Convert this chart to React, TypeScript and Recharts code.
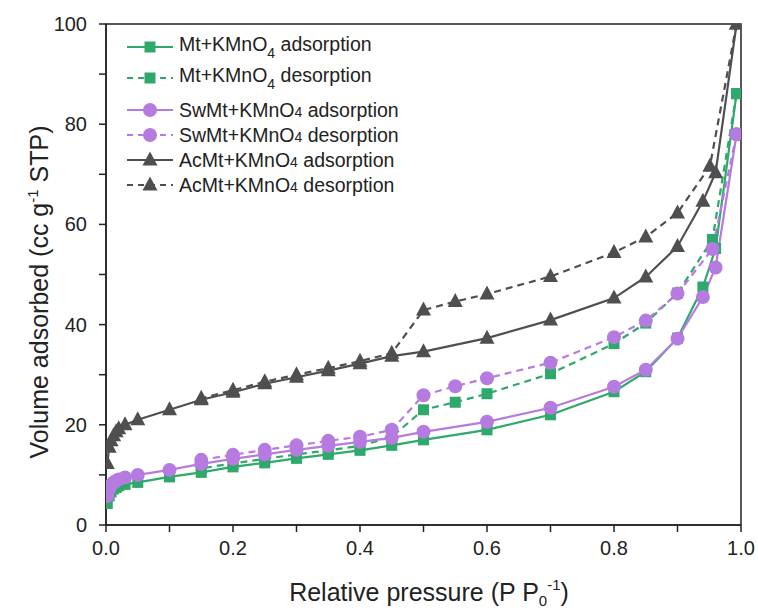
import React from "react"
import { LineChart, Line, XAxis, YAxis, ReferenceArea } from "recharts"

const GREEN = "#2fa96b"
const PURPLE = "#b67be0"
const DARK = "#4f4f4f"
const FONT = "'Liberation Sans', Arial, sans-serif"

// relative pressure points (adsorption branch, then desorption branch)
const adsP = [0.002, 0.005, 0.008, 0.012, 0.016, 0.02, 0.03, 0.05, 0.1, 0.15, 0.2, 0.25, 0.3, 0.35, 0.4, 0.45, 0.5, 0.6, 0.7, 0.8, 0.85, 0.9, 0.94, 0.96, 0.993]
const desP = [0.993, 0.955, 0.9, 0.85, 0.8, 0.7, 0.6, 0.55, 0.5, 0.45, 0.4, 0.35, 0.3, 0.25, 0.2, 0.15]
const acDesP = [0.993, 0.951, 0.9, 0.85, 0.8, 0.7, 0.6, 0.55, 0.5, 0.45, 0.4, 0.35, 0.3, 0.25, 0.2, 0.15]

const mtAds = [4.3, 5.8, 6.6, 7.2, 7.5, 7.8, 8.1, 8.5, 9.6, 10.5, 11.6, 12.4, 13.3, 14.1, 14.9, 15.9, 17.0, 19.0, 22.0, 26.6, 30.6, 37.3, 47.5, 55.2, 86.1]
const mtDes = [86.1, 57.0, 46.3, 40.3, 36.2, 30.2, 26.2, 24.5, 23.0, 17.6, 15.8, 14.9, 14.1, 13.2, 12.3, 11.3]
const swAds = [5.8, 7.2, 8.0, 8.5, 8.8, 9.1, 9.5, 10.0, 11.0, 12.2, 13.2, 14.1, 15.0, 15.8, 16.6, 17.4, 18.6, 20.6, 23.4, 27.6, 31.0, 37.2, 45.5, 51.4, 78.0]
const swDes = [78.0, 55.1, 46.2, 40.8, 37.5, 32.4, 29.3, 27.7, 25.9, 19.0, 17.6, 16.8, 15.9, 15.0, 14.0, 13.0]
const acAds = [12.3, 15.5, 16.8, 17.8, 18.6, 19.2, 20.0, 21.0, 23.0, 25.0, 26.5, 28.2, 29.5, 30.8, 32.2, 33.7, 34.6, 37.3, 40.9, 45.3, 49.5, 55.6, 64.6, 70.3, 100]
const acDes = [100, 71.6, 62.3, 57.5, 54.4, 49.6, 46.1, 44.6, 42.9, 34.3, 32.7, 31.3, 30.0, 28.6, 26.9, 25.3]

const xTicks = [0, 0.1, 0.2, 0.3, 0.4, 0.5, 0.6, 0.7, 0.8, 0.9, 1.0]
const yTicks = [0, 10, 20, 30, 40, 50, 60, 70, 80, 90, 100]

const zip = (ps: number[], vs: number[]) => ps.map((p, i) => ({ p, v: vs[i] }))

type Shape = "square" | "circle" | "triangle"

function Marker({ cx, cy, shape, color }: { cx: number; cy: number; shape: Shape; color: string }) {
  if (cx == null || cy == null) return null
  if (shape === "square") return <rect x={cx - 5.5} y={cy - 5.5} width={11} height={11} fill={color} />
  if (shape === "circle") return <circle cx={cx} cy={cy} r={7} fill={color} />
  return <polygon points={`${cx},${cy - 8.5} ${cx + 7.5},${cy + 5.5} ${cx - 7.5},${cy + 5.5}`} fill={color} />
}

const dotFor = (shape: Shape, color: string) => (props: any) => (
  <Marker key={`${shape}-${props.index}`} cx={props.cx} cy={props.cy} shape={shape} color={color} />
)

const series = [
  { name: "Mt+KMnO", sub: true, kind: "adsorption", data: zip(adsP, mtAds), color: GREEN, shape: "square" as Shape, dashed: false },
  { name: "Mt+KMnO", sub: true, kind: "desorption", data: zip(desP, mtDes), color: GREEN, shape: "square" as Shape, dashed: true },
  { name: "SwMt+KMnO", sub: false, kind: "adsorption", data: zip(adsP, swAds), color: PURPLE, shape: "circle" as Shape, dashed: false },
  { name: "SwMt+KMnO", sub: false, kind: "desorption", data: zip(desP, swDes), color: PURPLE, shape: "circle" as Shape, dashed: true },
  { name: "AcMt+KMnO", sub: false, kind: "adsorption", data: zip(adsP, acAds), color: DARK, shape: "triangle" as Shape, dashed: false },
  { name: "AcMt+KMnO", sub: false, kind: "desorption", data: zip(acDesP, acDes), color: DARK, shape: "triangle" as Shape, dashed: true },
]

function XTick(props: any) {
  const { x, y, payload } = props
  const v = payload.value
  if (Math.round(v * 10) % 2 !== 0) return null
  return (
    <text x={x} y={y} dy={17} textAnchor="middle" fontSize={20} fontFamily={FONT} fill="#222">
      {v.toFixed(1)}
    </text>
  )
}

function YTick(props: any) {
  const { x, y, payload } = props
  const v = payload.value
  if (Math.round(v) % 20 !== 0) return null
  return (
    <text x={x} y={y} dy={7} textAnchor="end" fontSize={20} fontFamily={FONT} fill="#222">
      {v}
    </text>
  )
}

function LegendRow({ s, top }: { s: (typeof series)[number]; top: number }) {
  return (
    <div style={{ position: "absolute", left: 126, top, height: 24, display: "flex", alignItems: "center" }}>
      <svg width={48} height={20}>
        <line x1={1} y1={10} x2={47} y2={10} stroke={s.color} strokeWidth={2.2} strokeDasharray={s.dashed ? "6 5" : undefined} />
        <Marker cx={24} cy={10} shape={s.shape} color={s.color} />
      </svg>
      <span style={{ marginLeft: 5, fontSize: 19.5, fontFamily: FONT, color: "#222", whiteSpace: "nowrap" }}>
        {s.name}
        {s.sub ? (
          <sub style={{ fontSize: 14, verticalAlign: -7 }}>4</sub>
        ) : (
          <span style={{ fontSize: 14 }}>4</span>
        )}{" "}
        {s.kind}
      </span>
    </div>
  )
}

const legendTops = [35, 66, 98, 123, 148, 173]

export default function App() {
  return (
    <div style={{ position: "absolute", left: 0, top: 0, width: 758, height: 612, background: "#fff" }}>
      <LineChart width={758} height={612} margin={{ top: 24, right: 17, left: 0, bottom: 0 }}>
        <XAxis
          type="number"
          dataKey="p"
          domain={[0, 1]}
          ticks={xTicks}
          tick={XTick}
          tickSize={7}
          tickMargin={6}
          height={87}
          stroke="#222"
          strokeWidth={1.5}
          allowDataOverflow
        />
        <YAxis
          type="number"
          dataKey="v"
          domain={[0, 100]}
          ticks={yTicks}
          tick={YTick}
          tickSize={7}
          tickMargin={12}
          width={106}
          stroke="#222"
          strokeWidth={1.5}
          allowDataOverflow
        />
        <ReferenceArea x1={0} x2={1} y1={0} y2={100} fill="none" stroke="#222" strokeWidth={1.5} />
        {series.map((s, i) => (
          <Line
            key={i}
            data={s.data}
            dataKey="v"
            type="linear"
            stroke={s.color}
            strokeWidth={2.2}
            strokeDasharray={s.dashed ? "7 5" : undefined}
            dot={dotFor(s.shape, s.color)}
            activeDot={false}
            isAnimationActive={false}
          />
        ))}
      </LineChart>

      <svg width={758} height={612} style={{ position: "absolute", left: 0, top: 0, pointerEvents: "none" }}>
        <text x={429} y={601} textAnchor="middle" fontSize={25} fontFamily={FONT} fill="#222">
          Relative pressure (P P
          <tspan fontSize={15} dy={5}>0</tspan>
          <tspan fontSize={15} dy={-16}>-1</tspan>
          <tspan dy={11}>)</tspan>
        </text>
        <text
          transform="translate(48, 292) rotate(-90)"
          textAnchor="middle"
          fontSize={25}
          fontFamily={FONT}
          fill="#222"
        >
          Volume adsorbed (cc g
          <tspan fontSize={15} dy={-10}>-1</tspan>
          <tspan dy={10}> STP)</tspan>
        </text>
      </svg>

      {series.map((s, i) => (
        <LegendRow key={i} s={s} top={legendTops[i]} />
      ))}
    </div>
  )
}
